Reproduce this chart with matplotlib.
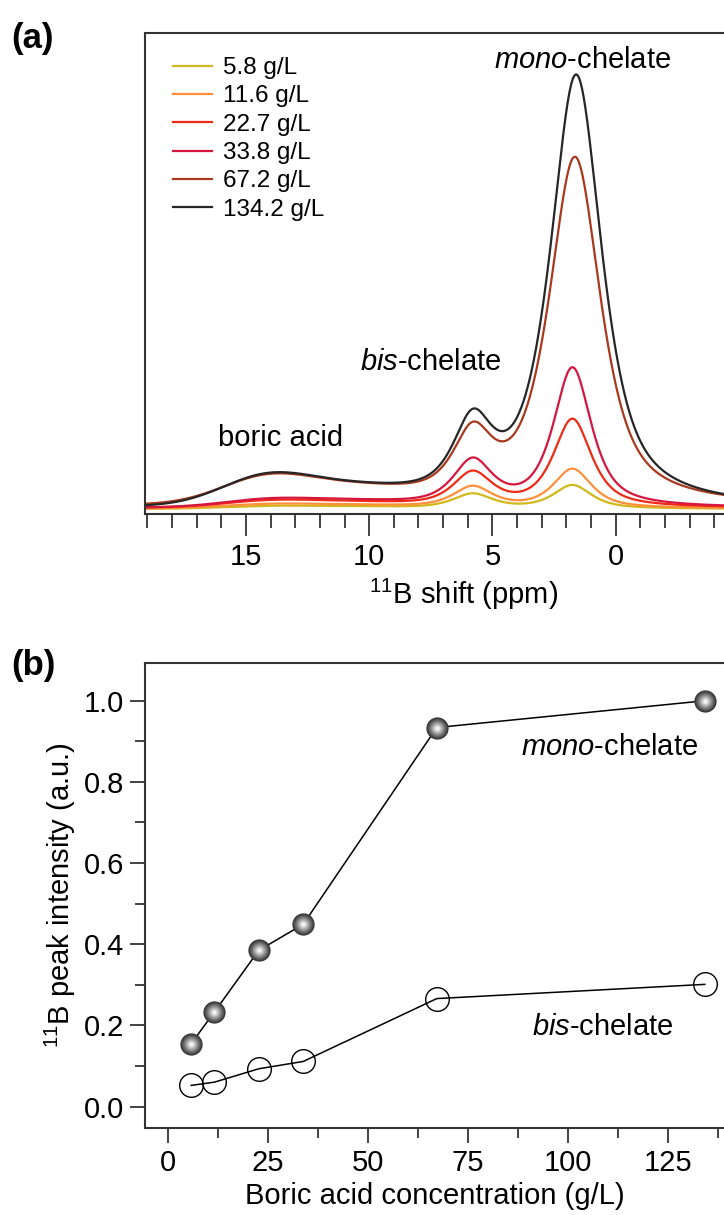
import numpy as np
import matplotlib
matplotlib.use("Agg")
from matplotlib import pyplot as plt
from matplotlib.ticker import MultipleLocator

plt.rcParams['font.family'] = ['Liberation Sans', 'DejaVu Sans']
plt.rcParams['mathtext.fontset'] = 'custom'
plt.rcParams['mathtext.rm'] = 'Liberation Sans'
plt.rcParams['mathtext.it'] = 'Liberation Sans:italic'

### (a) 11B NMR spectra -- peak parameters
conc_labels = ['5.8 g/L', '11.6 g/L', '22.7 g/L', '33.8 g/L', '67.2 g/L', '134.2 g/L']
line_colors = ['#d2b81c', '#ff8f3a', '#ef2a17', '#d5173f', '#a8391f', '#262626']
baseline = [5, 5.5, 6, 6, 8, 6]
boric_amp = [2, 3, 5, 6, 22, 24]
broad_amp = [2, 3, 5, 6, 15, 16]
bis_amp = [14.6, 21, 33.6, 44.7, 60.8, 71]
mono_amp = [23.5, 39, 88, 139, 347, 431]
mono_pos = [1.75, 1.75, 1.75, 1.75, 1.65, 1.6]
mono_hwhm = [0.92, 0.92, 0.92, 0.92, 1.25, 1.25]
boric_pos, boric_sigma = 14.3, 1.8
broad_pos, broad_sigma = 11.0, 2.5
bis_pos, bis_hwhm = 5.8, 0.95

### (b) peak intensities
conc = [5.8, 11.6, 22.7, 33.8, 67.2, 134.2]
mono_int = [0.155, 0.233, 0.385, 0.449, 0.934, 1.0]
bis_int = [0.052, 0.060, 0.093, 0.111, 0.266, 0.301]


def pvoigt(x, x0, hw, eta=0.75):
    u = (x - x0) / hw
    return eta / (1 + u**2) + (1 - eta) * np.exp(-np.log(2) * u**2)


def gauss(x, x0, s):
    return np.exp(-(x - x0)**2 / (2 * s**2))


FS = 21

fig = plt.figure(figsize=(7.24, 12.15), dpi=100)

## ---- panel (a)
ax = fig.add_axes([0.2003, 0.577, 0.7997, 0.3958])
ppm = np.linspace(19.5, -5, 1500)
for i in range(len(conc_labels)):
    y = (baseline[i]
         + boric_amp[i] * gauss(ppm, boric_pos, boric_sigma)
         + broad_amp[i] * gauss(ppm, broad_pos, broad_sigma)
         + bis_amp[i] * pvoigt(ppm, bis_pos, bis_hwhm)
         + mono_amp[i] * pvoigt(ppm, mono_pos[i], mono_hwhm[i]))
    ax.plot(ppm, y, color=line_colors[i], lw=1.6, label=conc_labels[i])

ax.set_xlim(19.1, -4.4)
ax.set_ylim(0, 481)
ax.set_yticks([])
ax.spines['right'].set_visible(False)
for s in ['top', 'left', 'bottom']:
    ax.spines[s].set_linewidth(1.5)
    ax.spines[s].set_color('#333333')
ax.xaxis.set_major_locator(MultipleLocator(5))
ax.xaxis.set_minor_locator(MultipleLocator(1))
ax.tick_params(axis='x', which='major', direction='out', length=16, width=1.2,
               labelsize=FS, pad=5, color='#222222')
ax.tick_params(axis='x', which='minor', direction='out', length=10, width=1.2, color='#222222')
ax.set_xlabel(r'$^{11}$B shift (ppm)', fontsize=FS, labelpad=0)
ax.xaxis.set_label_coords(0.55, -0.13)

ax.legend(loc='upper left', bbox_to_anchor=(0.048, 0.95), frameon=False, fontsize=17.5,
          handlelength=1.6, handletextpad=0.45, labelspacing=0.26, borderpad=0, borderaxespad=0)

ax.text(1.33, 454, r'$\mathit{mono}$-chelate', fontsize=FS, ha='center', va='center')
ax.text(4.63, 152, r'$\mathit{bis}$-chelate', fontsize=FS, ha='right', va='center')
ax.text(13.59, 76, 'boric acid', fontsize=FS, ha='center', va='center')
fig.text(0.016, 0.9685, '(a)', fontsize=25, fontweight='bold', va='center')

## ---- panel (b)
bx = fig.add_axes([0.2003, 0.0716, 0.7997, 0.3827])
bx.plot(conc, bis_int, color='black', lw=1.1, zorder=2)
bx.plot(conc, bis_int, 'o', ms=17, mfc='none', mec='black', mew=1.0, zorder=3)
bx.plot(conc, mono_int, color='black', lw=1.1, zorder=2)
# shaded sphere markers
n_layers = 14
for k in range(n_layers):
    f = k / (n_layers - 1)
    shade = 0.2 + 0.76 * f**1.1
    bx.plot(conc, mono_int, 'o', ms=16 * (1 - 0.85 * f), mfc=(shade, shade, shade),
            mec='none', zorder=4 + k * 0.01)

bx.set_xlim(-5.75, 139)
bx.set_ylim(-0.053, 1.093)
bx.spines['right'].set_visible(False)
for s in ['top', 'left', 'bottom']:
    bx.spines[s].set_linewidth(1.5)
    bx.spines[s].set_color('#333333')
bx.xaxis.set_major_locator(MultipleLocator(25))
bx.xaxis.set_minor_locator(MultipleLocator(12.5))
bx.yaxis.set_major_locator(MultipleLocator(0.2))
bx.yaxis.set_minor_locator(MultipleLocator(0.1))
bx.yaxis.set_major_formatter(matplotlib.ticker.FormatStrFormatter('%.1f'))
bx.tick_params(which='major', direction='out', length=11, width=1.2, labelsize=FS, pad=4,
               color='#222222')
bx.tick_params(which='minor', direction='out', length=7, width=1.2, color='#222222')
bx.set_xlabel('Boric acid concentration (g/L)', fontsize=FS, labelpad=4)
bx.set_ylabel(r'$^{11}$B peak intensity (a.u.)', fontsize=FS, labelpad=4)

bx.text(110.5, 0.886, r'$\mathit{mono}$-chelate', fontsize=FS, ha='center', va='center')
bx.text(108.8, 0.197, r'$\mathit{bis}$-chelate', fontsize=FS, ha='center', va='center')
fig.text(0.016, 0.452, '(b)', fontsize=25, fontweight='bold', va='center')

plt.savefig('out.png', dpi=100)
